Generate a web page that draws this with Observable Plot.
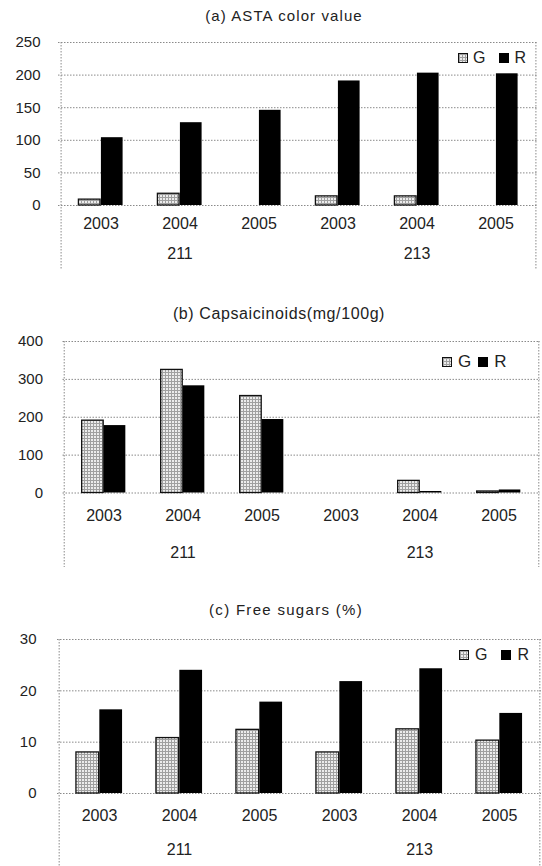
<!DOCTYPE html>
<html>
<head>
<meta charset="utf-8">
<script src="https://cdn.jsdelivr.net/npm/d3@7"></script>
<script src="https://cdn.jsdelivr.net/npm/@observablehq/plot@0.6"></script>
<style>
  html, body { margin: 0; padding: 0; background: #fff; }
  #page { position: relative; width: 542px; height: 866px; overflow: hidden; background: #fff;
          font-family: "Liberation Sans", Arial, "DejaVu Sans", sans-serif; color: #222; }
  .ttl { position: absolute; width: 400px; text-align: center; white-space: nowrap; color: #222; }
  .panel { position: absolute; left: 0; }
  .leg { position: absolute; display: flex; align-items: center; color: #222; white-space: nowrap; }
  .sw { display: inline-block; box-sizing: border-box; }
  .swG { border: 1px solid #111; background-color: #ececec;
         background-image: linear-gradient(#a0a0a0 1px, transparent 1px), linear-gradient(90deg, #a0a0a0 1px, transparent 1px);
         background-size: 3px 3px; }
  .swR { background: #000; }
</style>
</head>
<body>
<div id="page"></div>
<script>
// ---- data ----
const years = ["2003", "2004", "2005"];
const cultivars = ["211", "213"];
const seriesNames = ["G", "R"];

const titleA = "(a) ASTA color value";
const astaG = [9, 18, 0, 14, 14, 0];
const astaR = [104, 127, 146, 191, 203, 202];
const astaTicks = [0, 50, 100, 150, 200, 250];

const titleB = "(b) Capsaicinoids(mg/100g)";
const capsG = [191, 325, 256, 0, 32, 4];
const capsR = [178, 283, 194, 0, 4, 8];
const capsTicks = [0, 100, 200, 300, 400];

const titleC = "(c) Free sugars (%)";
const sugarG = [8.0, 10.8, 12.4, 8.0, 12.5, 10.3];
const sugarR = [16.3, 24.0, 17.8, 21.8, 24.3, 15.6];
const sugarTicks = [0, 10, 20, 30];

// ---- layout ----
const FONT = '"Liberation Sans", Arial, "DejaVu Sans", sans-serif';
const panels = [
  {title: titleA, g: astaG, r: astaR, ticks: astaTicks,
   svgTop: 32, yTop: 42, y0: 205, yearY: 228, groupY: 258.5, bottom: 269,
   left: 58, right: 537, tickPad: 18, tickFont: 15, yearFont: 16, barFrac: 0.282,
   titleX: 284, titleY: 16, titleFont: 15, titleLS: 1.1,
   legY: 58, legX: 458, legFont: 16, legSw: 10, legGap1: 5, legGap2: 14},
  {title: titleB, g: capsG, r: capsR, ticks: capsTicks,
   svgTop: 330, yTop: 341, y0: 492.5, yearY: 520, groupY: 557, bottom: 567,
   left: 62.5, right: 540, tickPad: 20, tickFont: 15, yearFont: 16, barFrac: 0.278,
   titleX: 279, titleY: 315, titleFont: 16, titleLS: 0.6,
   legY: 362, legX: 442, legFont: 17, legSw: 10, legGap1: 6, legGap2: 7},
  {title: titleC, g: sugarG, r: sugarR, ticks: sugarTicks,
   svgTop: 628, yTop: 639, y0: 793, yearY: 820, groupY: 854, bottom: 866,
   left: 57, right: 541, tickPad: 21, tickFont: 15, yearFont: 16, barFrac: 0.29,
   titleX: 286, titleY: 610, titleFont: 15, titleLS: 1.3,
   legY: 655, legX: 459, legFont: 16, legSw: 10, legGap1: 6, legGap2: 14}
];

const page = document.getElementById("page");
const keys = cultivars.flatMap(c => years.map(y => c + "-" + y));
const cats = keys.map(k => ({key: k, cultivar: k.split("-")[0], year: k.split("-")[1]}));

function drawPanel(p) {
  const vals = {G: p.g, R: p.r};
  const rows = s => keys.map((k, i) => ({key: k, series: s, value: vals[s][i]})).filter(d => d.value > 0);
  const bw = (p.right - p.left) / keys.length;
  const barW = bw * p.barFrac;
  const H = p.bottom - p.svgTop;
  const dash = {stroke: "#8a8a8a", strokeWidth: 1, strokeDasharray: "1.5,1.5"};
  const svg = Plot.plot({
    width: 542, height: H,
    marginLeft: p.left, marginRight: 542 - p.right, marginTop: p.yTop - p.svgTop, marginBottom: 0,
    style: {fontFamily: FONT, fontSize: p.tickFont + "px", color: "#222", background: "transparent", overflow: "visible"},
    x: {type: "band", domain: keys, paddingInner: 0, paddingOuter: 0, axis: null},
    y: {domain: [0, p.ticks[p.ticks.length - 1]], range: [p.y0 - p.svgTop, p.yTop - p.svgTop]},
    marks: [
      Plot.ruleY(p.ticks, dash),
      Plot.ruleX([keys[0]], {dx: -bw / 2, ...dash}),
      Plot.ruleX([keys[keys.length - 1]], {dx: bw / 2, ...dash}),
      Plot.ruleX([keys[years.length]], {dx: -bw / 2, y1: 0, ...dash}),
      Plot.barY(rows(seriesNames[0]), {x: "key", y: "value", insetLeft: bw / 2 - barW, insetRight: bw / 2,
        fill: "url(#gpat)", stroke: "#111", strokeWidth: 1.3}),
      Plot.barY(rows(seriesNames[1]), {x: "key", y: "value", insetLeft: bw / 2, insetRight: bw / 2 - barW,
        fill: "#000"}),
      Plot.axisY(p.ticks, {tickSize: 0, tickPadding: p.tickPad, fontSize: p.tickFont, tickFormat: d => String(d), label: null}),
      Plot.text(cats, {x: "key", text: "year", frameAnchor: "bottom", dy: p.yearY - p.bottom, fontSize: p.yearFont}),
      Plot.text(cultivars, {x: c => c + "-" + years[1], text: c => c, frameAnchor: "bottom", dy: p.groupY - p.bottom, fontSize: p.yearFont})
    ]
  });
  svg.insertAdjacentHTML("afterbegin",
    '<defs><pattern id="gpat" width="3" height="3" patternUnits="userSpaceOnUse">' +
    '<rect width="3" height="3" fill="#ececec"/><rect width="3" height="1" fill="#a0a0a0"/><rect width="1" height="3" fill="#a0a0a0"/>' +
    '</pattern></defs>');
  const wrap = document.createElement("div");
  wrap.className = "panel";
  wrap.style.top = p.svgTop + "px";
  wrap.appendChild(svg);
  page.appendChild(wrap);

  const t = document.createElement("div");
  t.className = "ttl";
  t.textContent = p.title;
  t.style.left = (p.titleX - 200) + "px";
  t.style.top = (p.titleY - p.titleFont * 0.6) + "px";
  t.style.fontSize = p.titleFont + "px";
  t.style.letterSpacing = p.titleLS + "px";
  page.appendChild(t);

  const leg = document.createElement("div");
  leg.className = "leg";
  leg.style.left = p.legX + "px";
  leg.style.top = (p.legY - p.legFont * 0.6) + "px";
  leg.style.fontSize = p.legFont + "px";
  leg.style.height = (p.legFont * 1.2) + "px";
  seriesNames.forEach((s, i) => {
    const sw = document.createElement("span");
    sw.className = "sw " + (s === "G" ? "swG" : "swR");
    sw.style.width = p.legSw + "px";
    sw.style.height = p.legSw + "px";
    sw.style.marginRight = p.legGap1 + "px";
    if (i > 0) sw.style.marginLeft = p.legGap2 + "px";
    leg.appendChild(sw);
    const tx = document.createElement("span");
    tx.textContent = s;
    leg.appendChild(tx);
  });
  page.appendChild(leg);
}

panels.forEach(drawPanel);
</script>
</body>
</html>
